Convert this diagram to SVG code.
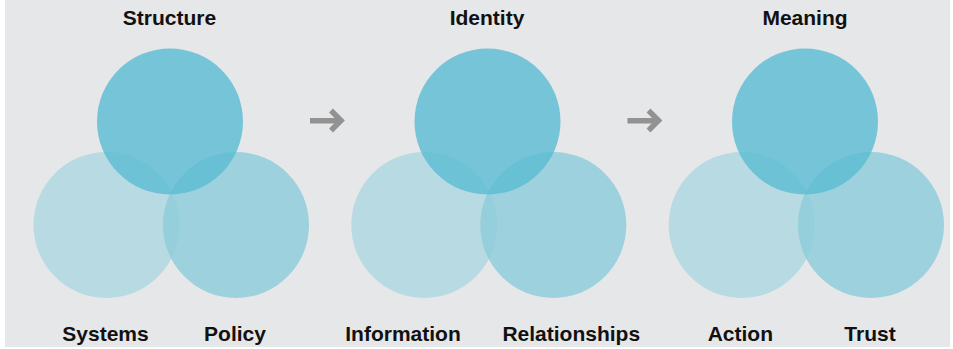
<svg xmlns="http://www.w3.org/2000/svg" width="953" height="349" viewBox="0 0 953 349">
<style>
.lbl{font-family:"Liberation Sans",Arial,sans-serif;font-weight:bold;font-size:21px;fill:#111;text-anchor:middle}
.cl{fill:#add7e0;opacity:0.8}
.cr{fill:#8bccda;opacity:0.8}
.ct{fill:#5abbd2;opacity:0.8}
.ar{fill:#929292}
.arh{fill:none;stroke:#929292;stroke-width:5.5;stroke-miterlimit:10}
</style>
<rect x="0" y="0" width="953" height="349" fill="#ffffff"/>
<rect x="5" y="0" width="945" height="347" fill="#e6e7e8"/>
<g id="structure">
<circle class="cl" cx="106.5" cy="225" r="73"/>
<circle class="cr" cx="236" cy="225" r="73"/>
<circle class="ct" cx="170" cy="121.5" r="73"/>
<text class="lbl" x="169.5" y="25">Structure</text>
<text class="lbl" x="105.5" y="341">Systems</text>
<text class="lbl" x="235" y="341">Policy</text>
</g>
<g id="identity">
<circle class="cl" cx="424.3" cy="225" r="73"/>
<circle class="cr" cx="553.3" cy="225" r="73"/>
<circle class="ct" cx="487.5" cy="121.5" r="73"/>
<text class="lbl" x="487" y="25">Identity</text>
<text class="lbl" x="403" y="341">Information</text>
<text class="lbl" x="571.3" y="341">Relationships</text>
</g>
<g id="meaning">
<circle class="cl" cx="741.7" cy="225" r="73"/>
<circle class="cr" cx="871" cy="225" r="73"/>
<circle class="ct" cx="805" cy="121.5" r="73"/>
<text class="lbl" x="805" y="25">Meaning</text>
<text class="lbl" x="740.3" y="341">Action</text>
<text class="lbl" x="870" y="341">Trust</text>
</g>
<g id="connectors">
<rect class="ar" x="310" y="118" width="28" height="5.5"/>
<polyline class="arh" points="331,110.5 341,120.5 331,130.5"/>
<rect class="ar" x="627.5" y="118" width="28" height="5.5"/>
<polyline class="arh" points="648.5,110.5 658.5,120.5 648.5,130.5"/>
</g>
</svg>
